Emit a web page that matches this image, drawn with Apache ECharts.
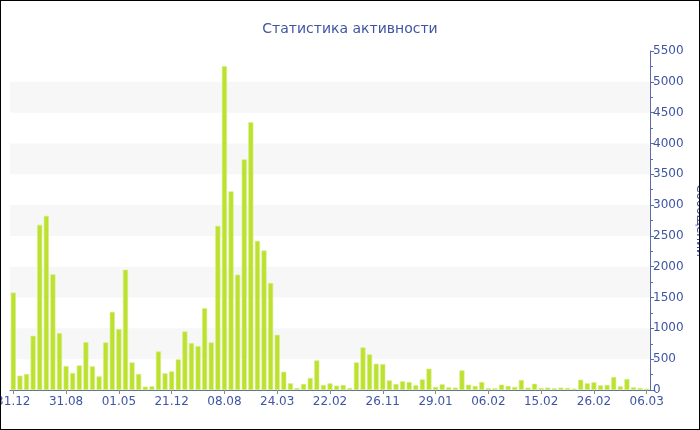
<!DOCTYPE html>
<html>
<head>
<meta charset="utf-8">
<script src="https://cdn.jsdelivr.net/npm/echarts@6/dist/echarts.min.js"></script>
<style>
html,body{margin:0;padding:0;background:#fff;}
#frame{width:700px;height:430px;box-sizing:border-box;border:1px solid #000;}
#chart{width:698px;height:428px;}
</style>
</head>
<body>
<div id="frame"><div id="chart"></div></div>
<script>
var titleText = 'Статистика активности';
var yAxisName = 'Сообщений';
// visible date labels, one every 8 categories
var tickLabels = ['31.12','31.08','01.05','21.12','08.08','24.03','22.02','26.11','29.01','06.02','15.02','26.02','06.03'];
var labelStep = 8;
var messages = [
  1580, 232, 259, 879, 2679, 2824, 1876, 922,
  388, 275, 399, 776, 383, 221, 771, 1267,
  986, 1951, 447, 259, 54, 59, 625, 270,
  302, 496, 949, 760, 711, 1326, 771, 2663,
  5255, 3223, 1870, 3741, 4344, 2420, 2264, 1736,
  895, 296, 108, 32, 97, 194, 480, 81,
  108, 70, 81, 32, 447, 690, 577, 426,
  420, 156, 97, 140, 129, 75, 172, 345,
  49, 92, 43, 38, 318, 86, 65, 129,
  30, 27, 86, 65, 49, 162, 38, 102,
  32, 38, 27, 38, 32, 22, 167, 108,
  124, 75, 81, 210, 59, 178, 43, 32,
  22
];

var categories = messages.map(function (v, i) {
  return (i % labelStep === 0 && tickLabels[i / labelStep] !== undefined) ? tickLabels[i / labelStep] : '';
});

var blue = '#3f55a2';
var axisBlue = '#5b6ca8';
var font = 'DejaVu Sans';

var chart = echarts.init(document.getElementById('chart'), null, {renderer: 'canvas'});
chart.setOption({
  animation: false,
  backgroundColor: '#fff',
  title: {
    text: titleText,
    left: 'center',
    top: 16,
    textStyle: {color: blue, fontSize: 14, fontWeight: 'normal', fontFamily: font}
  },
  grid: {left: 9, right: 49, top: 50, bottom: 39, containLabel: false, outerBoundsMode: 'none'},
  xAxis: {
    type: 'category',
    data: categories,
    boundaryGap: true,
    axisLine: {show: true, lineStyle: {color: axisBlue, width: 1}},
    axisTick: {show: true, interval: labelStep - 1, alignWithLabel: true, length: 4, lineStyle: {color: '#888'}},
    axisLabel: {interval: labelStep - 1, color: blue, fontSize: 12, fontFamily: font, margin: 6, hideOverlap: false},
    splitLine: {show: false}
  },
  yAxis: {
    type: 'value',
    position: 'right',
    min: 0,
    max: 5500,
    interval: 500,
    name: yAxisName,
    nameLocation: 'middle',
    nameRotate: -90,
    nameGap: 34,
    nameTextStyle: {color: blue, fontSize: 12, fontFamily: font},
    axisLine: {show: true, lineStyle: {color: axisBlue, width: 1}},
    axisTick: {show: true, length: 4, lineStyle: {color: axisBlue}},
    minorTick: {show: true, splitNumber: 2, length: 3, lineStyle: {color: axisBlue}},
    axisLabel: {color: blue, fontSize: 12, fontFamily: font, margin: 3, formatter: function (v) { return String(v); }},
    splitLine: {show: false},
    splitArea: {show: true, areaStyle: {color: ['rgba(255,255,255,0)', '#f7f7f7']}}
  },
  series: [{
    type: 'bar',
    data: messages,
    barWidth: 5,
    itemStyle: {color: '#bce12f', borderColor: '#d3ee7c', borderWidth: 0.6}
  }]
});
</script>
</body>
</html>
